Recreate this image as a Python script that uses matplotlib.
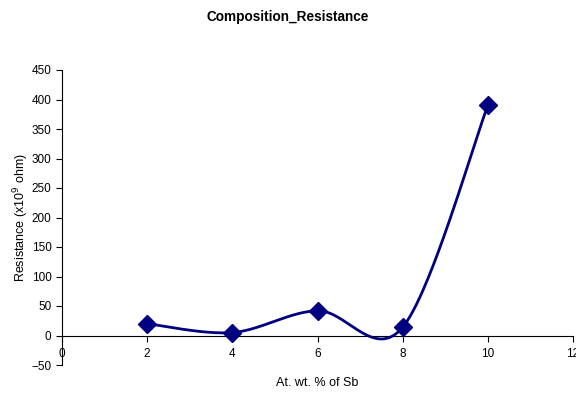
import numpy as np
import matplotlib
matplotlib.use("Agg")
import matplotlib.pyplot as plt

plt.rcParams['font.family'] = ['Liberation Sans', 'DejaVu Sans']

composition = [2, 4, 6, 8, 10]
resistance = [20, 5, 42, 14, 390]
x_ticks = [0, 2, 4, 6, 8, 10, 12]
y_ticks = [-50, 0, 50, 100, 150, 200, 250, 300, 350, 400, 450]


def smooth_curve(xs, ys, n=60):
    """Catmull-Rom style Bezier smoothing through every point."""
    xs = np.asarray(xs, float)
    ys = np.asarray(ys, float)
    px = np.concatenate([[xs[0]], xs, [xs[-1]]])
    py = np.concatenate([[ys[0]], ys, [ys[-1]]])
    out_x, out_y = [], []
    t = np.linspace(0, 1, n)
    for i in range(1, len(px) - 2):
        p0 = np.array([px[i], py[i]])
        p3 = np.array([px[i + 1], py[i + 1]])
        c1 = p0 + (np.array([px[i + 1], py[i + 1]]) - np.array([px[i - 1], py[i - 1]])) / 6
        c2 = p3 - (np.array([px[i + 2], py[i + 2]]) - np.array([px[i], py[i]])) / 6
        b = ((1 - t) ** 3)[:, None] * p0 + (3 * (1 - t) ** 2 * t)[:, None] * c1 \
            + (3 * (1 - t) * t ** 2)[:, None] * c2 + (t ** 3)[:, None] * p3
        out_x.extend(b[:, 0])
        out_y.extend(b[:, 1])
    return np.array(out_x), np.array(out_y)


fig = plt.figure(figsize=(5.76, 3.94), dpi=100)
ax = fig.add_axes([62 / 576, 1 - 365 / 394, 511 / 576, 295 / 394])

sx, sy = smooth_curve(composition, resistance)
ax.plot(sx, sy, color='#000080', lw=2, zorder=3)
ax.plot(composition, resistance, linestyle='none', marker='D', markersize=9,
        color='#000080', zorder=4, clip_on=False)

ax.set_xlim(0, 12)
ax.set_ylim(-50, 450)
ax.set_xticks(x_ticks)
ax.set_yticks(y_ticks)

ax.spines['top'].set_visible(False)
ax.spines['right'].set_visible(False)
ax.spines['bottom'].set_position(('data', 0))
for s in ('left', 'bottom'):
    ax.spines[s].set_color('#000000')
    ax.spines[s].set_linewidth(0.8)

ax.tick_params(axis='both', direction='out', length=4, width=0.8,
               labelsize=8.5, color='#000000')
ax.tick_params(axis='x', pad=5)

ax.set_xlabel('At. wt. % of Sb', fontsize=9)
ax.xaxis.label.set_va('center')
ax.xaxis.set_label_coords(0.5, (365 - 383) / 295)
ax.set_ylabel('Resistance (x10$^{9}$ ohm)', fontsize=9)
ax.yaxis.label.set_va('center')
ax.yaxis.set_label_coords((21 - 62) / 511, 0.5)

fig.suptitle('Composition_Resistance', fontsize=9.8, fontweight='bold',
             y=1 - 17 / 394, va='center')

fig.savefig('out.png', dpi=100)
